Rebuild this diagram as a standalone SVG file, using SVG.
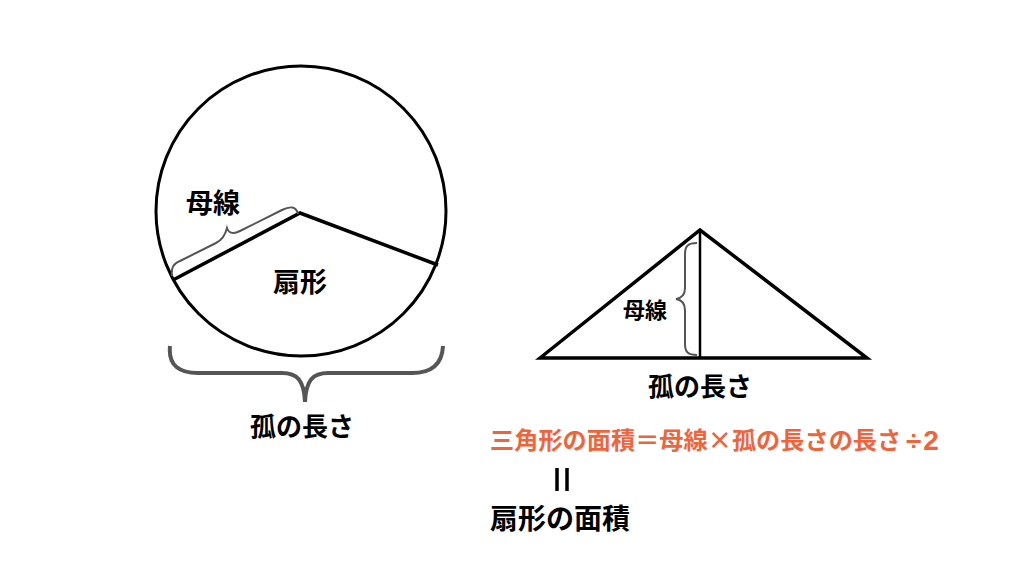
<svg xmlns="http://www.w3.org/2000/svg" width="1024" height="576" viewBox="0 0 1024 576">
<style>
.ln{fill:none;stroke:#000;stroke-width:3.5;stroke-linejoin:miter}
.br{fill:none;stroke:#555;stroke-width:2}
.brt{fill:none;stroke:#555;stroke-width:4}
.t{font-family:"Noto Sans CJK JP","Noto Sans",sans-serif;font-weight:bold;fill:#000}
.r{fill:#f0643c}
.l{font-family:"Liberation Sans",Arial,sans-serif;font-weight:bold}
</style>
<rect width="1024" height="576" fill="#fff"/>
<g id="circle">
<circle cx="301" cy="211" r="145" class="ln" style="stroke-width:3"/>
<polyline points="173,280 300,213 438,265" class="ln"/>
<path class="br" d="M172,276 C171,268 173,264 180,261 L216,243 C222,240 225,236 227,228 C229,234 234,234 240,231 L282,210 C290,206 296,206 298,214"/>
<text class="t" x="213" y="213" font-size="27" text-anchor="middle">母線</text>
<text class="t" x="300" y="292" font-size="27" text-anchor="middle">扇形</text>
</g>
<g id="arc-brace">
<path class="brt" d="M170,346 C168,366 180,373 198,373 L282,373 C297,373 304,380 305,402 C306,380 313,373 328,373 L412,373 C430,373 442,366 443,346"/>
<text class="t" x="302" y="436" font-size="26" text-anchor="middle">孤の長さ</text>
</g>
<g id="triangle">
<polygon points="540,358 700,230 867,358" class="ln" style="stroke-width:3.5"/>
<line x1="700" y1="230" x2="700" y2="358" stroke="#000" stroke-width="2.5"/>
<path class="br" d="M697,243 C688,243 685,246 685,254 L685,288 C685,295 682,298 676,299 C682,300 685,303 685,310 L685,344 C685,352 688,355 697,355"/>
<text class="t" x="645" y="318" font-size="22" text-anchor="middle">母線</text>
<text class="t" x="700" y="396" font-size="26" text-anchor="middle">孤の長さ</text>
</g>
<g id="formula">
<text class="t r" x="490" y="449" font-size="24.2">三角形の面積＝母線×孤の長さの長さ</text>
<text class="r l" x="906" y="450" font-size="28" letter-spacing="2">÷2</text>
<line x1="557" y1="468" x2="557" y2="491" stroke="#000" stroke-width="3.5"/>
<line x1="567" y1="468" x2="567" y2="491" stroke="#000" stroke-width="3.5"/>
<text class="t" x="490" y="529" font-size="28">扇形の面積</text>
</g>
</svg>
